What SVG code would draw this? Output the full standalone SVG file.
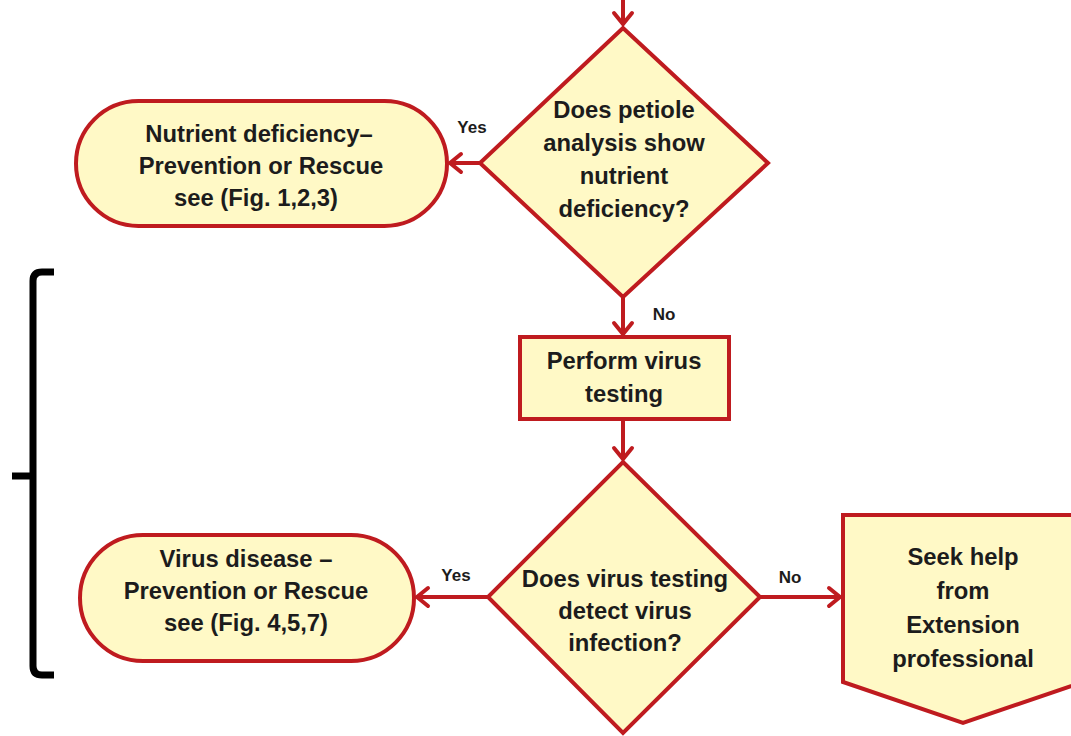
<svg xmlns="http://www.w3.org/2000/svg" width="1071" height="736" viewBox="0 0 1071 736">
<defs>
<style>
.shape{fill:#FFF9C6;stroke:#BF1B1F;stroke-width:4;stroke-linejoin:miter}
.conn{stroke:#BF1B1F;stroke-width:4;fill:none}
.t{font-family:"Liberation Sans",Arial,sans-serif;font-weight:bold;font-size:23.8px;fill:#1c1c1c;text-anchor:middle}
.lbl{font-family:"Liberation Sans",Arial,sans-serif;font-weight:bold;font-size:17px;fill:#1c1c1c;text-anchor:middle}
</style>
<marker id="arr" markerUnits="userSpaceOnUse" markerWidth="24" markerHeight="24" viewBox="-14 -12 16 24" refX="0" refY="0" orient="auto">
<path d="M-11,-9 L0,0 L-11,9" fill="none" stroke="#BF1B1F" stroke-width="4" stroke-linecap="round" stroke-linejoin="miter"/>
</marker>
</defs>
<rect width="1071" height="736" fill="#ffffff"/>

<g id="connectors">
<line class="conn" x1="623" y1="0" x2="623" y2="24" marker-end="url(#arr)"/>
<line class="conn" x1="480" y1="163" x2="450" y2="163" marker-end="url(#arr)"/>
<line class="conn" x1="623" y1="297" x2="623" y2="334" marker-end="url(#arr)"/>
<line class="conn" x1="623" y1="420" x2="623" y2="459" marker-end="url(#arr)"/>
<line class="conn" x1="488" y1="597" x2="417" y2="597" marker-end="url(#arr)"/>
<line class="conn" x1="760" y1="597" x2="840" y2="597" marker-end="url(#arr)"/>
<text class="lbl" x="472" y="133">Yes</text>
<text class="lbl" x="664" y="320">No</text>
<text class="lbl" x="456" y="581">Yes</text>
<text class="lbl" x="790" y="583">No</text>
</g>

<g id="decision1">
<polygon class="shape" points="623,28 768,163 623,297 480,163"/>
<text class="t" x="624" y="118">Does petiole</text>
<text class="t" x="624" y="151">analysis show</text>
<text class="t" x="624" y="184">nutrient</text>
<text class="t" x="624" y="217">deficiency?</text>
</g>

<g id="nutrient">
<rect class="shape" x="76" y="101" width="371" height="125" rx="62.5" ry="62.5"/>
<text class="t" x="259" y="142">Nutrient deficiency–</text>
<text class="t" x="261" y="174">Prevention or Rescue</text>
<text class="t" x="256" y="206">see (Fig. 1,2,3)</text>
</g>

<g id="virustest">
<rect class="shape" x="520" y="337" width="209" height="82"/>
<text class="t" x="624" y="369">Perform virus</text>
<text class="t" x="624" y="402">testing</text>
</g>

<g id="decision2">
<polygon class="shape" points="623,462 760,597 623,733 488,597"/>
<text class="t" x="625" y="587">Does virus testing</text>
<text class="t" x="625" y="619">detect virus</text>
<text class="t" x="625" y="651">infection?</text>
</g>

<g id="virusdisease">
<rect class="shape" x="80" y="535" width="334" height="126" rx="63" ry="63"/>
<text class="t" x="246" y="567">Virus disease –</text>
<text class="t" x="246" y="599">Prevention or Rescue</text>
<text class="t" x="246" y="631">see (Fig. 4,5,7)</text>
</g>

<g id="seekhelp">
<polygon class="shape" points="843,515 1083,515 1083,682 963,723 843,682"/>
<text class="t" x="963" y="565">Seek help</text>
<text class="t" x="963" y="599">from</text>
<text class="t" x="963" y="633">Extension</text>
<text class="t" x="963" y="667">professional</text>
</g>

<g id="brace" fill="none" stroke="#000000" stroke-width="7">
<path d="M54,272 H42 Q33,272 33,281 V666 Q33,675 42,675 H54" stroke-linejoin="round"/>
<path d="M12,476 H33"/>
</g>
</svg>
